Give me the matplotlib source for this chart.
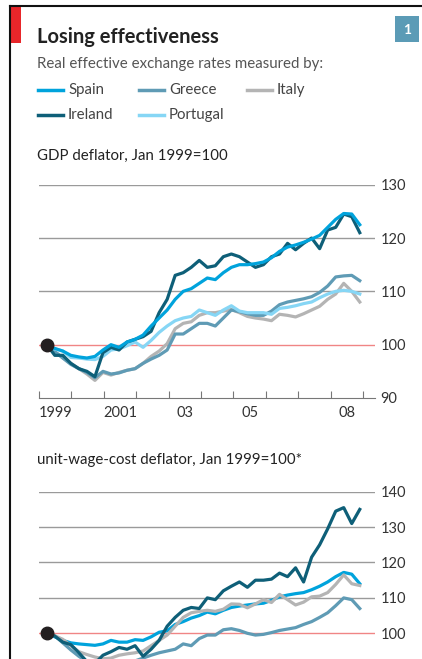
import numpy as np
import matplotlib.pyplot as plt
from matplotlib.patches import Rectangle
from matplotlib.lines import Line2D

plt.rcParams['font.family'] = ['Lato', 'DejaVu Sans']

# Data, roughly quarterly from early 1999 to late 2008
dates = np.linspace(1999.24, 2008.9, 40)

# GDP deflator, Jan 1999=100
gdp_spain = [99.5, 99.3, 98.8, 98.0, 97.7, 97.5, 97.8, 99.0, 100.0, 99.5,
             100.5, 101.0, 101.8, 103.5, 105.0, 106.5, 108.5, 110.0, 110.5, 111.5,
             112.5, 112.2, 113.5, 114.5, 115.0, 115.0, 115.2, 115.5, 116.3, 117.5,
             118.3, 118.7, 119.2, 119.8, 120.5, 122.0, 123.5, 124.6, 124.5, 122.5]
gdp_ireland = [100.0, 98.0, 98.0, 96.5, 95.5, 95.0, 94.0, 98.5, 99.5, 99.0,
               100.5, 101.0, 101.5, 102.5, 106.0, 108.5, 113.0, 113.5, 114.5, 115.8,
               114.5, 114.8, 116.5, 117.0, 116.5, 115.5, 114.5, 115.0, 116.5, 117.0,
               119.0, 117.8, 119.0, 120.0, 118.0, 121.5, 122.0, 124.5, 124.0, 121.0]
gdp_greece = [99.5, 98.7, 97.5, 96.3, 95.5, 94.8, 93.8, 95.0, 94.5, 94.7,
              95.2, 95.5, 96.5, 97.3, 98.0, 99.0, 102.0, 102.0, 103.0, 104.0,
              104.0, 103.5, 105.0, 106.5, 106.2, 105.8, 105.5, 105.5, 106.3, 107.5,
              108.0, 108.3, 108.6, 109.0, 109.8, 111.0, 112.7, 112.9, 113.0, 112.0]
gdp_italy = [99.5, 98.7, 97.5, 96.5, 95.5, 94.5, 93.3, 94.8, 94.3, 94.8,
             95.2, 95.5, 96.5, 97.8, 98.8, 100.2, 103.0, 104.0, 104.3, 105.5,
             106.0, 106.0, 106.3, 106.6, 106.0, 105.3, 105.0, 104.8, 104.5, 105.7,
             105.5, 105.2, 105.8, 106.5, 107.2, 108.5, 109.5, 111.5, 110.0, 108.0]
gdp_portugal = [99.5, 99.2, 98.8, 97.6, 97.5, 97.3, 97.2, 97.8, 99.0, 99.2,
                99.8, 100.5, 99.5, 100.8, 102.3, 103.5, 104.5, 105.0, 105.3, 106.5,
                106.0, 105.5, 106.5, 107.3, 106.3, 106.0, 106.0, 106.0, 105.7, 106.8,
                107.0, 107.3, 107.7, 108.0, 108.8, 109.5, 110.0, 110.2, 110.0, 109.5]

# unit-wage-cost deflator, Jan 1999=100
ulc_spain = [100.0, 99.0, 98.0, 97.3, 97.0, 96.8, 96.6, 97.0, 98.0, 97.5,
             97.5, 98.2, 98.0, 99.0, 100.3, 100.7, 102.5, 103.3, 104.3, 105.0,
             106.0, 105.5, 106.5, 107.3, 107.7, 108.0, 108.3, 108.5, 109.3, 110.3,
             110.8, 111.2, 111.5, 112.3, 113.3, 114.5, 116.0, 117.2, 116.7, 114.0]
ulc_ireland = [100.0, 99.2, 97.5, 96.8, 94.5, 92.0, 91.5, 93.8, 94.8, 96.0,
               95.5, 96.5, 93.5, 95.5, 98.0, 102.0, 104.5, 106.5, 107.3, 107.0,
               110.0, 109.5, 112.0, 113.3, 114.5, 113.0, 115.0, 115.0, 115.3, 117.0,
               116.0, 118.5, 114.5, 121.5, 125.0, 129.5, 134.5, 135.5, 131.0, 135.0]
ulc_greece = [100.0, 99.3, 97.3, 95.3, 93.5, 92.0, 91.0, 90.5, 90.5, 91.0,
              91.5, 92.2, 93.0, 93.8, 94.5, 95.0, 95.5, 97.0, 96.5, 98.5,
              99.5, 99.5, 101.0, 101.3, 100.8, 100.0, 99.5, 99.7, 100.2, 100.8,
              101.2, 101.6, 102.5, 103.3, 104.5, 105.8, 107.8, 110.0, 109.5, 107.0]
ulc_italy = [100.0, 99.3, 98.3, 96.5, 94.8, 94.0, 93.3, 92.8, 93.0, 93.8,
             94.2, 94.5, 95.0, 96.5, 98.0, 99.5, 102.0, 104.5, 105.8, 106.2,
             106.5, 106.2, 106.8, 108.3, 108.2, 107.2, 108.3, 109.5, 108.7, 111.0,
             109.5, 108.0, 108.8, 110.3, 110.5, 111.5, 113.8, 116.5, 114.0, 113.5]

year_ticks = list(range(1999, 2010))
year_label_pos = [1999.5, 2001.5, 2003.5, 2005.5, 2008.5]
year_labels = ['1999', '2001', '03', '05', '08']

c_spain = '#00a3dc'
c_greece = '#5f9bb5'
c_italy = '#b4b4b4'
c_ireland = '#0e5f78'
c_portugal = '#86d6f5'

W, H = 422, 659
fig = plt.figure(figsize=(W / 100, H / 100), dpi=100)


def px_axes(left, top, right, bottom):
    return fig.add_axes([left / W, 1 - bottom / H, (right - left) / W, (bottom - top) / H])


def style_axes(ax, grid_vals, ticks, lo, hi):
    ax.set_xlim(1999, 2009.37)
    ax.set_ylim(lo, hi)
    for s in ax.spines.values():
        s.set_visible(False)
    for g in grid_vals:
        if g == 100:
            ax.axhline(g, color='#f08585', lw=1.0, zorder=1)
        else:
            ax.axhline(g, color='#9a9a9a', lw=1.0, zorder=1)
    ax.yaxis.tick_right()
    ax.set_yticks(ticks)
    ax.tick_params(axis='y', length=0, pad=4, labelsize=10.5, labelcolor='#333333')


# Panel 1: GDP deflator
ax1 = px_axes(39, 184.7, 375, 398)
style_axes(ax1, [100, 110, 120, 130], [90, 100, 110, 120, 130], 90, 130)
ax1.spines['bottom'].set_visible(True)
ax1.spines['bottom'].set_color('#777777')
ax1.set_xticks(year_ticks)
ax1.set_xticks(year_label_pos, minor=True)
ax1.set_xticklabels([''] * len(year_ticks))
ax1.set_xticklabels(year_labels, minor=True)
ax1.tick_params(axis='x', which='major', direction='in', length=5, color='#777777')
ax1.tick_params(axis='x', which='minor', length=0, pad=6, labelsize=10.5, labelcolor='#333333')

ax1.plot(dates, gdp_italy, color=c_italy, lw=2.3, zorder=3, solid_joinstyle='round')
ax1.plot(dates, gdp_greece, color=c_greece, lw=2.3, zorder=3, solid_joinstyle='round')
ax1.plot(dates, gdp_portugal, color=c_portugal, lw=2.3, zorder=3, solid_joinstyle='round')
ax1.plot(dates, gdp_ireland, color=c_ireland, lw=2.3, zorder=4, solid_joinstyle='round')
ax1.plot(dates, gdp_spain, color=c_spain, lw=2.3, zorder=4, solid_joinstyle='round')
ax1.plot([dates[0]], [100], 'o', color='#231f20', ms=9, zorder=6, clip_on=False)

# Panel 2: unit-wage-cost deflator (cut off at the bottom of the image)
ax2 = px_axes(39, 491.7, 375, 704.1)
style_axes(ax2, [100, 110, 120, 130, 140], [100, 110, 120, 130, 140], 80, 140)
ax2.set_xticks([])
ax2.plot(dates, ulc_greece, color=c_greece, lw=2.3, zorder=3, solid_joinstyle='round')
ax2.plot(dates, ulc_spain, color=c_spain, lw=2.3, zorder=3, solid_joinstyle='round')
ax2.plot(dates, ulc_italy, color=c_italy, lw=2.3, zorder=4, solid_joinstyle='round')
ax2.plot(dates, ulc_ireland, color=c_ireland, lw=2.3, zorder=4, solid_joinstyle='round')
ax2.plot([dates[0]], [100], 'o', color='#231f20', ms=9, zorder=6, clip_on=False)

# Frame, red tab and number box
fig.add_artist(Line2D([10 / W, 1], [1 - 6 / H, 1 - 6 / H], color='#111111', lw=1.5))
fig.add_artist(Line2D([10 / W, 10 / W], [0, 1 - 6 / H], color='#111111', lw=1.5))
fig.add_artist(Rectangle((10 / W, 1 - 43 / H), 11 / W, 36 / H, color='#e8262a', lw=0))
fig.add_artist(Rectangle((395 / W, 1 - 42 / H), 24 / W, 26 / H, color='#5b9bb6', lw=0))
fig.text(407 / W, 1 - 29.5 / H, '1', color='white', fontsize=10, fontweight='bold',
         ha='center', va='center')

# Titles
fig.text(37 / W, 1 - 37 / H, 'Losing effectiveness', fontsize=14.5, fontweight='bold',
         color='#222222', va='center')
fig.text(37 / W, 1 - 64 / H, 'Real effective exchange rates measured by:', fontsize=10.8,
         color='#555555', va='center')

# Legend
legend_items = [('Spain', c_spain, 38, 90), ('Greece', c_greece, 139, 90),
                ('Italy', c_italy, 247, 90), ('Ireland', c_ireland, 38, 115),
                ('Portugal', c_portugal, 139, 115)]
for name, col, lx, ly in legend_items:
    fig.add_artist(Line2D([lx / W, (lx + 25) / W], [1 - ly / H, 1 - ly / H], color=col, lw=2.5))
    fig.text((lx + 30) / W, 1 - ly / H, name, fontsize=10.8, color='#444444', va='center')

fig.text(37 / W, 1 - 156 / H, 'GDP deflator, Jan 1999=100', fontsize=10.8, color='#222222',
         va='center')
fig.text(37 / W, 1 - 460 / H, 'unit-wage-cost deflator, Jan 1999=100*', fontsize=10.8,
         color='#222222', va='center')

fig.savefig('out.png', dpi=100)
